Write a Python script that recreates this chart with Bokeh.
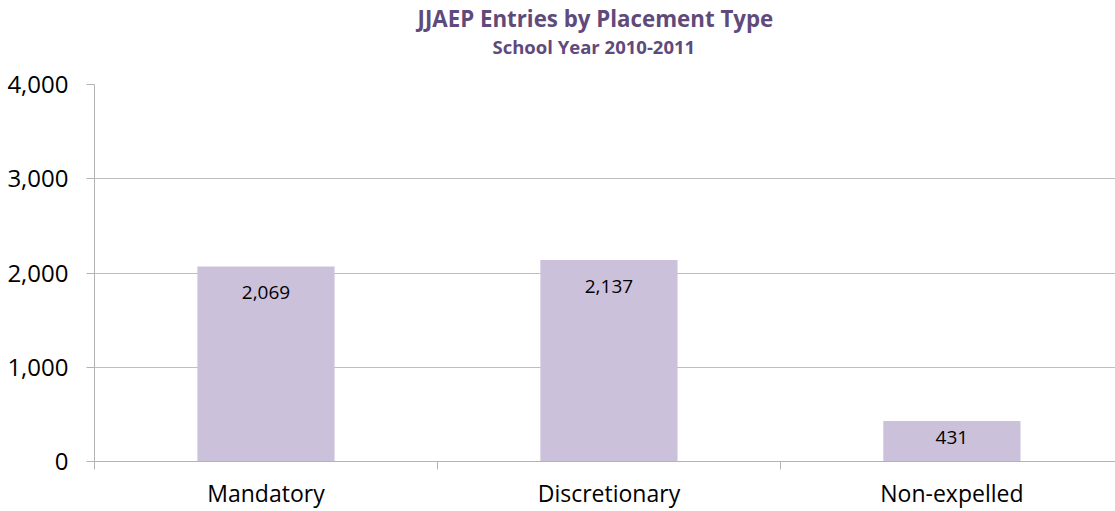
from bokeh.plotting import figure
from bokeh.models import Range1d, FixedTicker, NumeralTickFormatter, Title, ColumnDataSource
from bokeh.core.properties import value
from bokeh.embed import file_html
from bokeh.resources import INLINE

categories = ["Mandatory", "Discretionary", "Non-expelled"]
entries = [2069, 2137, 431]
y_ticks = [0, 1000, 2000, 3000, 4000]
title_text = "JJAEP Entries by Placement Type"
subtitle_text = "School Year 2010-2011"

FONT = "Open Sans"
PURPLE = "#604A7B"
BAR = "#CCC1DA"
GRID = "#BFBFBF"
AXIS = "#B3B3B3"

W, H = 1115, 511
LEFT, TOP, BOTTOM = 94, 84, 49
FRAME_H = H - TOP - BOTTOM

x_pos = [i + 0.5 for i in range(len(categories))]
boundaries = list(range(len(categories) + 1))
Y_MAX = 4000
px_per_unit = FRAME_H / Y_MAX
label_off = [min(26.0, 0.42 * v * px_per_unit) for v in entries]

source = ColumnDataSource(dict(
    x=x_pos, top=entries,
    label=[f"{v:,}" for v in entries],
    off=label_off,
))

p = figure(width=W, height=H, output_backend="svg", toolbar_location=None,
           x_range=Range1d(0, 2.977), y_range=Range1d(0, Y_MAX),
           min_border_left=LEFT, min_border_right=0, min_border_top=TOP, min_border_bottom=BOTTOM)
p.outline_line_color = None
p.background_fill_color = "white"
p.border_fill_color = "white"

p.vbar(x="x", top="top", bottom=0, width=0.4, source=source, fill_color=BAR, line_color=None)
p.text(x="x", y="top", text="label", source=source, text_align="center", text_baseline="middle",
       y_offset="off", text_font=value(FONT), text_font_size="19px", text_color="black")

p.xaxis.ticker = FixedTicker(ticks=x_pos, minor_ticks=boundaries)
p.xaxis.major_label_overrides = {x: c for x, c in zip(x_pos, categories)}
p.xaxis.major_tick_out = 0
p.xaxis.major_tick_in = 0
p.xaxis.minor_tick_out = 8
p.xaxis.minor_tick_in = 0
p.xaxis.minor_tick_line_color = AXIS
p.xaxis.axis_line_color = AXIS
p.xaxis.major_label_standoff = 7
p.xaxis.major_label_text_font = FONT
p.xaxis.major_label_text_font_size = "23px"
p.xaxis.major_label_text_color = "black"

p.yaxis.ticker = FixedTicker(ticks=y_ticks)
p.yaxis.formatter = NumeralTickFormatter(format="0,0")
p.yaxis.major_tick_out = 8
p.yaxis.major_tick_in = 0
p.yaxis.major_tick_line_color = AXIS
p.yaxis.axis_line_color = AXIS
p.yaxis.major_label_standoff = 18
p.yaxis.major_label_text_font = FONT
p.yaxis.major_label_text_font_size = "24px"
p.yaxis.major_label_text_color = "black"

p.xgrid.visible = False
p.ygrid.grid_line_color = GRID

p.title.text = ""
sub = Title(text=subtitle_text, align="left", offset=398, text_font=FONT, text_font_size="18.5px",
            text_font_style="bold", text_color=PURPLE, standoff=52)
main = Title(text=title_text, align="left", offset=323, text_font=FONT, text_font_size="22.3px",
             text_font_style="bold", text_color=PURPLE, standoff=-56)
p.add_layout(sub, "above")
p.add_layout(main, "above")

open("out.html", "w").write(file_html(p, INLINE))
